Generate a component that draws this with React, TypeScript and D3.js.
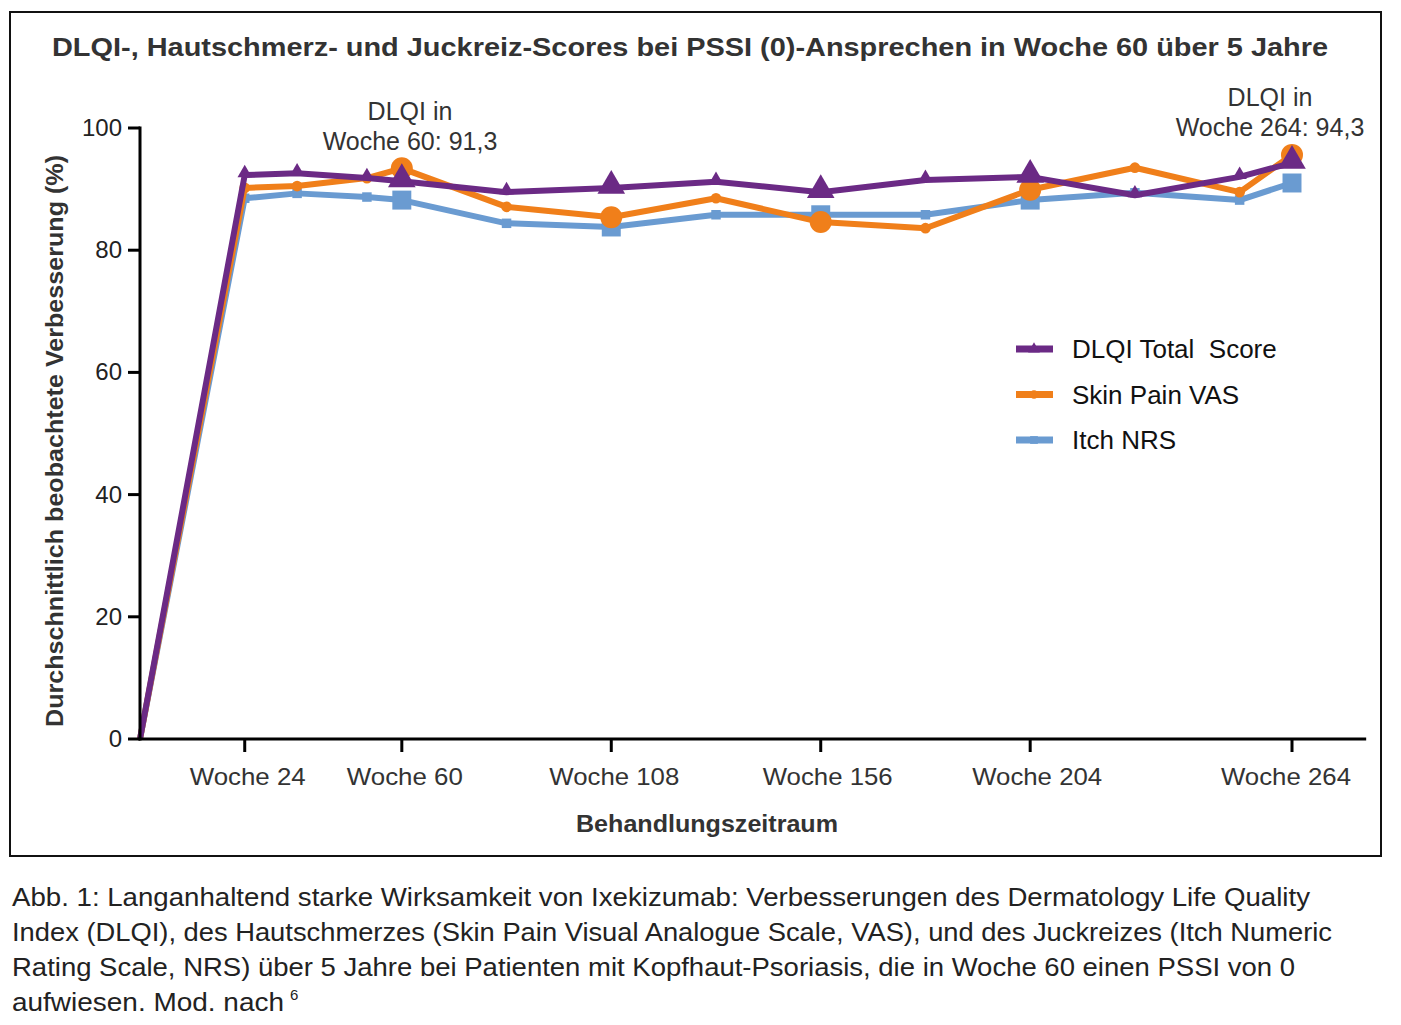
import { useEffect, useRef } from "react";
import * as d3 from "d3";

const weeks = [0, 24, 36, 52, 60, 84, 108, 132, 156, 180, 204, 228, 252, 264];
const bigWeeks = [60, 108, 156, 204, 264];
const tickWeeks = [24, 60, 108, 156, 204, 264];
const yTicks = [0, 20, 40, 60, 80, 100];

const dlqi = [0, 92.3, 92.6, 91.8, 91.3, 89.5, 90.2, 91.2, 89.5, 91.5, 92.0, 89.0, 92.0, 94.3];
const skinPain = [0, 90.2, 90.5, 91.8, 93.4, 87.1, 85.4, 88.5, 84.6, 83.6, 89.9, 93.5, 89.5, 95.6];
const itch = [0, 88.5, 89.3, 88.7, 88.2, 84.4, 83.8, 85.8, 85.8, 85.8, 88.2, 89.4, 88.2, 91.0];

const seriesNames = ["DLQI Total  Score", "Skin Pain VAS", "Itch NRS"];
const seriesColors = ["#6B2A85", "#F07F1A", "#6A9BD1"];
const seriesShapes = ["triangle", "circle", "square"];

const title = "DLQI-, Hautschmerz- und Juckreiz-Scores bei PSSI (0)-Ansprechen in Woche 60 über 5 Jahre";
const caption = [
  "Abb. 1: Langanhaltend starke Wirksamkeit von Ixekizumab: Verbesserungen des Dermatology Life Quality",
  "Index (DLQI), des Hautschmerzes (Skin Pain Visual Analogue Scale, VAS), und des Juckreizes (Itch Numeric",
  "Rating Scale, NRS) über 5 Jahre bei Patienten mit Kopfhaut-Psoriasis, die in Woche 60 einen PSSI von 0",
  "aufwiesen. Mod. nach",
];
const captionWidths = [1298, 1320, 1283, 272];

const FONT = "'Liberation Sans', Arial, sans-serif";

export default function App() {
  const ref = useRef<SVGSVGElement>(null);

  useEffect(() => {
    if (!ref.current) return;
    const svg = d3.select(ref.current);
    svg.selectAll("*").remove();

    const x = d3.scaleLinear().domain([0, 264]).range([140, 1292]);
    const y = d3.scaleLinear().domain([0, 100]).range([739, 128]);
    const xEnd = x(281);

    // frame
    svg.append("rect").attr("x", 10).attr("y", 12).attr("width", 1371).attr("height", 844)
      .attr("fill", "white").attr("stroke", "#111").attr("stroke-width", 2);

    svg.append("text").attr("x", 690).attr("y", 56).attr("text-anchor", "middle")
      .attr("font-family", FONT).attr("font-weight", "bold").attr("font-size", 25)
      .attr("fill", "#333").attr("textLength", 1276).attr("lengthAdjust", "spacingAndGlyphs")
      .text(title);

    // series (blue, orange, purple order)
    const all = [dlqi, skinPain, itch];
    const line = d3.line<number>().x((_, i) => x(weeks[i])).y(v => y(v));
    [2, 1, 0].forEach(si => {
      const vals = all[si];
      const color = seriesColors[si];
      svg.append("path").attr("d", line(vals)).attr("fill", "none")
        .attr("stroke", color).attr("stroke-width", 6).attr("stroke-linejoin", "round");
      vals.forEach((v, i) => {
        if (i === 0) return;
        const big = bigWeeks.includes(weeks[i]);
        const shape = seriesShapes[si];
        const sym = shape === "triangle" ? d3.symbolTriangle : shape === "circle" ? d3.symbolCircle : d3.symbolSquare;
        const size = big ? (shape === "circle" ? 380 : shape === "square" ? 360 : 330) : 90;
        svg.append("path").attr("d", d3.symbol(sym, size)())
          .attr("transform", `translate(${x(weeks[i])},${y(v) + (shape === "triangle" ? -2 : 0)})`)
          .attr("fill", color);
      });
    });

    // axes
    const axisColor = "#000";
    svg.append("line").attr("x1", x(0)).attr("x2", x(0)).attr("y1", y(100) - 1.5).attr("y2", y(0) + 1.5)
      .attr("stroke", axisColor).attr("stroke-width", 3);
    svg.append("line").attr("x1", x(0) - 1.5).attr("x2", xEnd).attr("y1", y(0)).attr("y2", y(0))
      .attr("stroke", axisColor).attr("stroke-width", 3);

    yTicks.forEach(t => {
      svg.append("line").attr("x1", x(0) - 12).attr("x2", x(0)).attr("y1", y(t)).attr("y2", y(t))
        .attr("stroke", axisColor).attr("stroke-width", 3);
      svg.append("text").attr("x", x(0) - 18).attr("y", y(t) + 8).attr("text-anchor", "end")
        .attr("font-family", FONT).attr("font-size", 24).attr("fill", "#222").text(t);
    });

    tickWeeks.forEach(t => {
      svg.append("line").attr("x1", x(t)).attr("x2", x(t)).attr("y1", y(0)).attr("y2", y(0) + 13)
        .attr("stroke", axisColor).attr("stroke-width", 3);
      svg.append("text").attr("x", x(t) + (t === 264 ? -6 : t >= 156 ? 7 : 3)).attr("y", 785)
        .attr("text-anchor", "middle")
        .attr("font-family", FONT).attr("font-size", 24).attr("fill", "#333")
        .attr("textLength", t >= 100 ? 130 : 116).attr("lengthAdjust", "spacingAndGlyphs")
        .text(`Woche ${t}`);
    });

    svg.append("text").attr("x", 707).attr("y", 832).attr("text-anchor", "middle")
      .attr("font-family", FONT).attr("font-weight", "bold").attr("font-size", 24).attr("fill", "#333")
      .attr("textLength", 262).attr("lengthAdjust", "spacingAndGlyphs")
      .text("Behandlungszeitraum");

    svg.append("text").attr("transform", `translate(63,441) rotate(-90)`).attr("text-anchor", "middle")
      .attr("font-family", FONT).attr("font-weight", "bold").attr("font-size", 24).attr("fill", "#333")
      .attr("textLength", 572).attr("lengthAdjust", "spacingAndGlyphs")
      .text("Durchschnittlich beobachtete Verbesserung (%)");

    // annotations
    const ann = [
      { cx: 410, y1: 120, lines: ["DLQI in", `Woche 60: ${String(dlqi[4]).replace(".", ",")}`] },
      { cx: 1270, y1: 106, lines: ["DLQI in", `Woche 264: ${String(dlqi[13]).replace(".", ",")}`] },
    ];
    ann.forEach(a => {
      a.lines.forEach((l, i) => {
        svg.append("text").attr("x", a.cx).attr("y", a.y1 + i * 30).attr("text-anchor", "middle")
          .attr("font-family", FONT).attr("font-size", 25).attr("fill", "#333").text(l);
      });
    });

    // legend
    seriesNames.forEach((name, i) => {
      const ly = 349 + i * 45.5;
      const g = svg.append("g");
      g.append("line").attr("x1", 1016).attr("x2", 1053).attr("y1", ly).attr("y2", ly)
        .attr("stroke", seriesColors[i]).attr("stroke-width", 7);
      const shape = seriesShapes[i];
      const sym = shape === "triangle" ? d3.symbolTriangle : shape === "circle" ? d3.symbolCircle : d3.symbolSquare;
      g.append("path").attr("d", d3.symbol(sym, 60)()).attr("transform", `translate(1034,${ly})`)
        .attr("fill", seriesColors[i]);
      g.append("text").attr("x", 1072).attr("y", ly + 9).attr("font-family", FONT)
        .attr("font-size", 26).attr("fill", "#111").style("white-space", "pre").text(name);
    });

    // caption
    caption.forEach((l, i) => {
      svg.append("text").attr("x", 12).attr("y", 906 + i * 35)
        .attr("font-family", FONT).attr("font-size", 26).attr("fill", "#222")
        .attr("textLength", captionWidths[i]).attr("lengthAdjust", "spacingAndGlyphs")
        .text(l);
    });
    svg.append("text").attr("x", 290).attr("y", 906 + 3 * 35 - 11)
      .attr("font-family", FONT).attr("font-size", 15).attr("fill", "#222").text("6");
  }, []);

  return (
    <svg ref={ref} width={1401} height={1025}
      style={{ position: "absolute", left: 0, top: 0, background: "white" }} />
  );
}
